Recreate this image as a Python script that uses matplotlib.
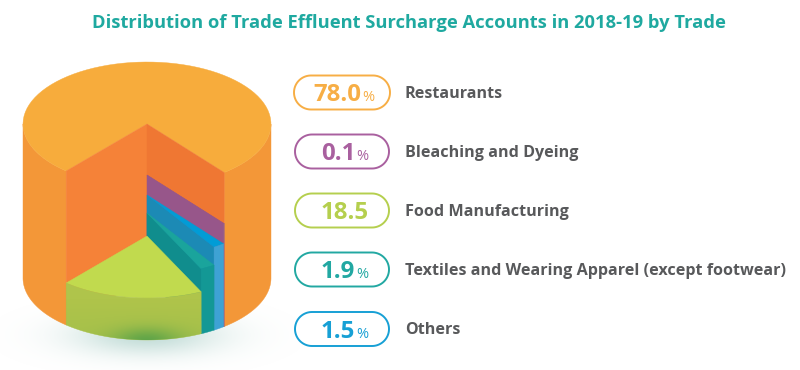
import numpy as np
import matplotlib
matplotlib.use('Agg')
import matplotlib.pyplot as plt
from matplotlib.colors import to_rgb
from matplotlib.patches import Polygon

plt.rcParams['font.family'] = ['Open Sans', 'DejaVu Sans']

title = 'Distribution of Trade Effluent Surcharge Accounts in 2018-19 by Trade'

# legend, top to bottom
trades = ['Restaurants', 'Bleaching and Dyeing', 'Food Manufacturing',
          'Textiles and Wearing Apparel (except footwear)', 'Others']
shares = [78.0, 0.1, 18.5, 1.9, 1.5]
value_labels = ['78.0', '0.1', '18.5', '1.9', '1.5']
percent_signs = ['%', '%', '', '%', '%']

# how the slices sit in the cake, left to right from the cut
pie_order = [2, 3, 4, 1]
slice_heights = [42, 65, 83, 103]

pill_colors = ['#F7AE45', '#A9609F', '#B5CF4E', '#22A8A2', '#17A0D5']
top_colors = ['#C1DA4E', '#1AA49C', '#019CD6', '#97568A']
wall_colors = [None, '#108D8D', '#1C8AB5', '#97568A']
side_colors = ['#AFC44B', '#139895', '#3EA2D4', '#8E6090']

cx, top_y, base_y, rx, ry = 147, 124, 278, 124, 62
start = -40.7


def rim(t, y):
    t = np.radians(t)
    return np.column_stack([cx + rx * np.sin(t), y + ry * np.cos(t)])


def side(t0, t1, y0, y1):
    ts = np.linspace(t0, t1, 80)
    return np.vstack([rim(ts, y0), rim(ts[::-1], y1)])


def sector(t0, t1, y):
    return np.vstack([[cx, y], rim(np.linspace(t0, t1, 80), y)])


def add(ax, pts, color, z):
    p = Polygon(pts, closed=True, fc=color, ec=color, lw=0.3, zorder=z)
    ax.add_patch(p)
    return p


def pill(x, y, w, h):
    a = np.radians(np.linspace(90, 270, 40))
    r = h / 2
    lft = np.column_stack([x + r + r * np.cos(a), y + r * np.sin(a)])
    rgt = np.column_stack([x + w - r - r * np.cos(a), y - r * np.sin(a)])
    return np.vstack([lft, rgt])


fig = plt.figure(figsize=(8, 3.7), dpi=100)
ax = fig.add_axes([0, 0, 1, 1])

# soft shadow on the floor
yy, xx = np.mgrid[300:370:140j, 0:300:300j]
glow = np.exp(-((xx - cx) / 72) ** 2 - ((yy - 335) / 20) ** 2)
img = np.ones(xx.shape + (4,))
img[..., :3] = to_rgb('#9CC8C0')
img[..., 3] = 0.6 * glow
ax.imshow(img, extent=[0, 300, 370, 300], aspect='auto', zorder=1)

# angles of the cut slices come from the shares
cut = [shares[i] * 3.6 for i in pie_order]
edges = start + np.concatenate([[0], np.cumsum(cut)])
stop = edges[-1]

# outer body and top of the big slice
add(ax, side(-90, start, top_y, base_y), '#F39738', 2)
add(ax, side(stop, 90, top_y, base_y), '#F39738', 2)
add(ax, sector(stop, 360 + start, top_y), '#F7AC3C', 3)

# two walls of the cut
left = rim(start, top_y)[0]
right = rim(stop, top_y)[0]
add(ax, [[cx, top_y], left, [left[0], left[1] + base_y - top_y], [cx, base_y]], '#F58238', 3)
add(ax, [[cx, top_y], right, [right[0], right[1] + base_y - top_y], [cx, base_y]], '#EF7733', 3)

# stepped slices, back to front
z = 4
for k in range(len(cut) - 1, -1, -1):
    t0, t1 = edges[k], edges[k + 1]
    y = base_y - slice_heights[k]
    if wall_colors[k]:
        e = rim(t0, y)[0]
        add(ax, [[cx, y], e, [e[0], e[1] + slice_heights[k]], [cx, base_y]], wall_colors[k], z)
    add(ax, sector(t0, t1, y), top_colors[k], z + 1)
    add(ax, side(t0, t1, y, base_y), side_colors[k], z + 1)
    z += 2

# dark spot on the front of the green slice
t0, t1 = edges[0], edges[1]
yy, xx = np.mgrid[280:345:130j, 60:210:300j]
spot = np.exp(-((xx - cx) / 34) ** 2 - ((yy - 341) / 13) ** 2)
img = np.ones(xx.shape + (4,))
img[..., :3] = to_rgb('#5FA548')
img[..., 3] = np.clip(0.12 * (yy - 298) / 42 + 0.85 * spot, 0, 1)
im = ax.imshow(img, extent=[60, 210, 345, 280], aspect='auto', zorder=z)
im.set_clip_path(Polygon(side(t0, t1, base_y - slice_heights[0], base_y), transform=ax.transData))

ax.set_xlim(0, 800)
ax.set_ylim(370, 0)
ax.axis('off')

ax.text(409, 23.5, title, color='#1FA9A0', fontsize=13.2, fontweight='bold',
        ha='center', va='center')

# legend pills
pill_left = [294, 295, 295, 295, 295]
pill_width = [96, 94, 94, 94, 94]
pill_y = [92.5, 151.5, 210.5, 269.5, 329]
num_left = [313, 321, 321, 321, 321]
pill_h = 34
r = fig.canvas.get_renderer()
for i in range(len(trades)):
    ax.add_patch(Polygon(pill(pill_left[i], pill_y[i], pill_width[i], pill_h), closed=True,
                         fc='white', ec=pill_colors[i], lw=1.4, zorder=5))
    n = ax.text(num_left[i], pill_y[i] + 8.5, value_labels[i], color=pill_colors[i], fontsize=17.3,
                fontweight='bold', ha='left', va='baseline', zorder=6)
    bb = n.get_window_extent(r)
    if percent_signs[i]:
        ax.text(bb.x1 + 1, pill_y[i] + 8.5, percent_signs[i], color=pill_colors[i], fontsize=10.5,
                ha='left', va='baseline', zorder=6)
    ax.text(405, pill_y[i] - 0.5, trades[i], color='#58595B', fontsize=11.6, fontweight='bold',
            ha='left', va='center_baseline', zorder=6)

fig.savefig('out.png', dpi=100)
